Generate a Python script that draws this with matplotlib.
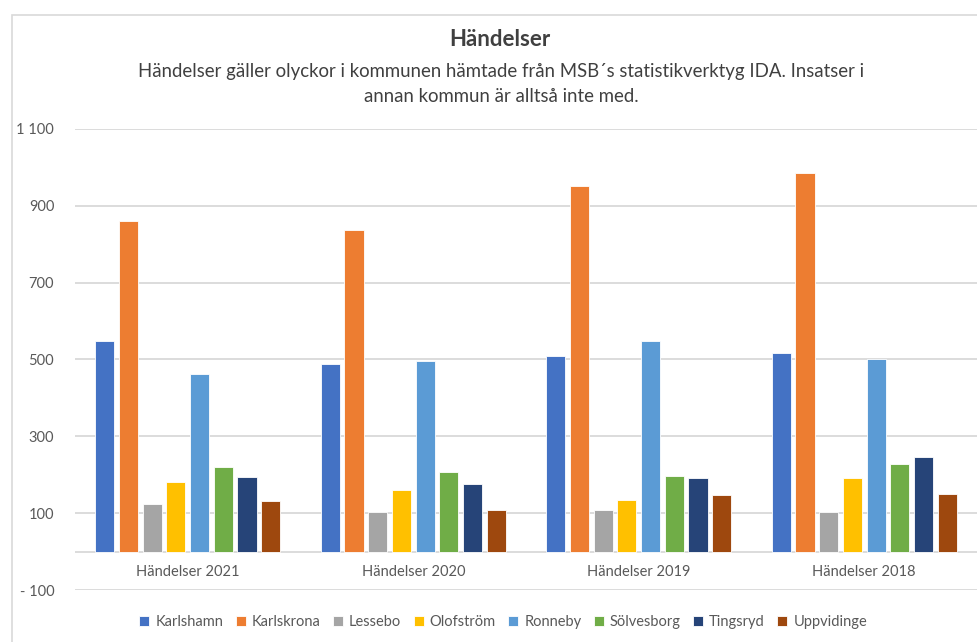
import numpy as np
import matplotlib.pyplot as plt
from matplotlib.patches import Rectangle

kommuner = ["Karlshamn", "Karlskrona", "Lessebo", "Olofström",
            "Ronneby", "Sölvesborg", "Tingsryd", "Uppvidinge"]
kategorier = ["Händelser 2021", "Händelser 2020", "Händelser 2019", "Händelser 2018"]

karlshamn = [547, 487, 510, 517]
karlskrona = [860, 836, 951, 985]
lessebo = [125, 103, 107, 103]
olofstrom = [182, 160, 135, 191]
ronneby = [461, 495, 549, 501]
solvesborg = [219, 208, 196, 229]
tingsryd = [193, 176, 191, 245]
uppvidinge = [131, 107, 148, 151]

serier = [karlshamn, karlskrona, lessebo, olofstrom,
          ronneby, solvesborg, tingsryd, uppvidinge]
farger = ["#4472C4", "#ED7D31", "#A5A5A5", "#FFC000",
          "#5B9BD5", "#70AD47", "#264478", "#9E480E"]

yticks = [-100, 100, 300, 500, 700, 900, 1100]
ytick_labels = ["- 100", "100", "300", "500", "700", "900", "1 100"]

plt.rcParams["font.family"] = ["Lato", "DejaVu Sans"]
textfarg = "#595959"

fig = plt.figure(figsize=(9.77, 6.42), dpi=100)
fig.patches.append(Rectangle((12 / 977, -0.1), 1.2, 1 - 15 / 642 + 0.1,
                             transform=fig.transFigure, fill=False,
                             edgecolor="#d9d9d9", linewidth=1.2))

ax = fig.add_axes([75 / 977, 1 - 590 / 642, 902 / 977, 461 / 642])

x = np.arange(len(kategorier))
steg = 0.105
bredd = 0.085
for i, (namn, varden) in enumerate(zip(kommuner, serier)):
    pos = x + (i - 3.5) * steg
    ax.bar(pos, varden, width=bredd, color=farger[i], label=namn,
           edgecolor="white", linewidth=0.6, zorder=3)

ax.set_xlim(-0.5, 3.5)
ax.set_ylim(-100, 1100)
ax.set_yticks(yticks)
ax.set_yticklabels(ytick_labels)
ax.set_xticks([])
ax.tick_params(axis="y", length=0, pad=15, labelsize=10.5, labelcolor=textfarg)
for t in ax.get_yticklabels():
    t.set_horizontalalignment("right")
ax.grid(axis="y", color="#d9d9d9", linewidth=1.3, zorder=0)
ax.axhline(0, color="#d9d9d9", linewidth=1.3, zorder=2)
for s in ax.spines.values():
    s.set_visible(False)

for xi, kat in zip(x, kategorier):
    ax.text(xi, -53, kat, ha="center", va="center", fontsize=10.5, color=textfarg)

fig.text(0.512, 1 - 40 / 642, "Händelser", ha="center", va="center",
         fontsize=16, fontweight="bold", color="#404040")
fig.text(0.513, 1 - 84 / 642,
         "Händelser gäller olyckor i kommunen hämtade från MSB´s statistikverktyg IDA. Insatser i\n"
         "annan kommun är alltså inte med.",
         ha="center", va="center", fontsize=13.4, color="#404040", linespacing=1.5)

fig.legend(loc="center", bbox_to_anchor=(0.515, 1 - 622 / 642), ncol=8,
           frameon=False, fontsize=10.5, labelcolor=textfarg,
           handlelength=0.7, handleheight=0.7, handletextpad=0.4, columnspacing=0.85)

fig.savefig("out.png", dpi=100)
